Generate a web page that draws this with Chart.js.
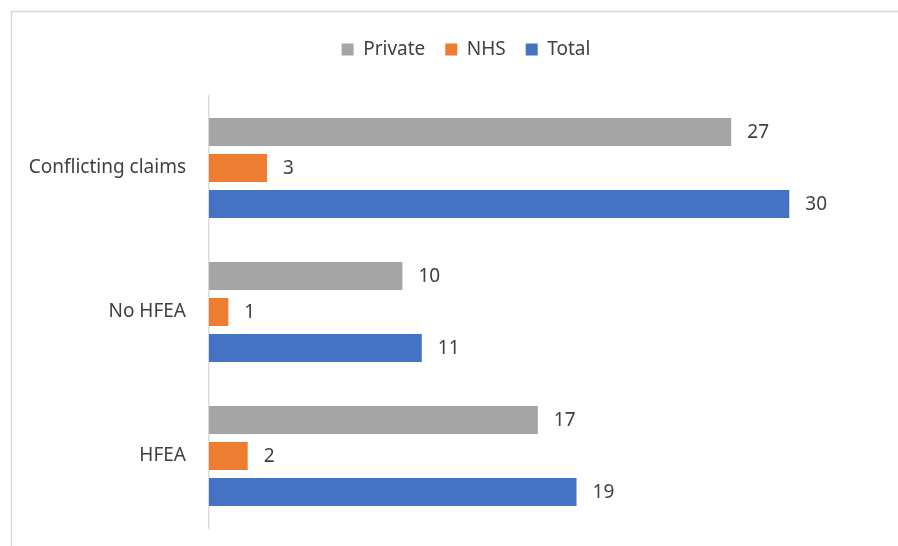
<!DOCTYPE html>
<html>
<head>
<meta charset="utf-8">
<script src="https://cdn.jsdelivr.net/npm/chart.js@4"></script>
<style>
  html, body { margin: 0; padding: 0; background: #fff; }
  #wrap { width: 898px; height: 546px; }
</style>
</head>
<body>
<div id="wrap"><canvas id="barChart" width="898" height="546"></canvas></div>
<script>
const categories = ['Conflicting claims', 'No HFEA', 'HFEA'];
const privateValues = [27, 10, 17];
const nhsValues = [3, 1, 2];
const totalValues = [30, 11, 19];

const textColor = '#404040';
const fontFamily = "'Noto Sans', 'Open Sans', sans-serif";

// numbers at the end of each bar
const barLabels = {
    id: 'barLabels',
    afterDatasetsDraw(chart) {
        const ctx = chart.ctx;
        ctx.save();
        ctx.font = '19px ' + fontFamily;
        ctx.fillStyle = textColor;
        ctx.textBaseline = 'middle';
        ctx.textAlign = 'left';
        chart.data.datasets.forEach((ds, i) => {
            chart.getDatasetMeta(i).data.forEach((bar, j) => {
                ctx.fillText(ds.data[j], bar.x + 16, bar.y + 1);
            });
        });
        ctx.restore();
    }
};

// light frame round the chart
const frame = {
    id: 'frame',
    beforeDraw(chart) {
        const ctx = chart.ctx;
        ctx.save();
        ctx.strokeStyle = '#d9d9d9';
        ctx.lineWidth = 1.5;
        ctx.strokeRect(11.5, 11.5, 1000, 600);
        ctx.restore();
    }
};

// more room under the legend, and nudge it right a bit
const legendGap = {
    id: 'legendGap',
    beforeInit(chart) {
        const fit = chart.legend.fit;
        chart.legend.fit = function () {
            fit.call(this);
            this.height += 27;
        };
    },
    afterLayout(chart) {
        chart.legend.left += 23;
        chart.legend.right += 23;
    }
};

const config = {
    type: 'bar',
    data: {
        labels: categories,
        datasets: [{
            label: 'Private',
            data: privateValues,
            backgroundColor: '#a5a5a5'
        }, {
            label: 'NHS',
            data: nhsValues,
            backgroundColor: '#ed7d31'
        }, {
            label: 'Total',
            data: totalValues,
            backgroundColor: '#4472c4'
        }]
    },
    options: {
        indexAxis: 'y',
        responsive: false,
        animation: false,
        categoryPercentage: 0.75,
        barPercentage: 0.778,
        layout: {
            padding: { top: 20, bottom: 18, left: 0, right: 12 }
        },
        plugins: {
            legend: {
                position: 'top',
                labels: {
                    boxWidth: 12,
                    boxHeight: 12,
                    padding: 20,
                    color: textColor,
                    font: { family: fontFamily, size: 19 }
                }
            },
            tooltip: { enabled: false }
        },
        scales: {
            x: {
                display: false,
                min: 0,
                max: 35
            },
            y: {
                grid: { display: false, drawTicks: false },
                border: { display: true, color: '#d9d9d9', width: 1.5 },
                ticks: {
                    color: textColor,
                    padding: 23,
                    font: { family: fontFamily, size: 19 }
                },
                afterFit(scale) {
                    scale.width = 209;
                    scale.paddingTop = 0;
                    scale.paddingBottom = 0;
                }
            }
        }
    },
    plugins: [frame, legendGap, barLabels]
};

new Chart(document.getElementById('barChart'), config);
</script>
</body>
</html>
